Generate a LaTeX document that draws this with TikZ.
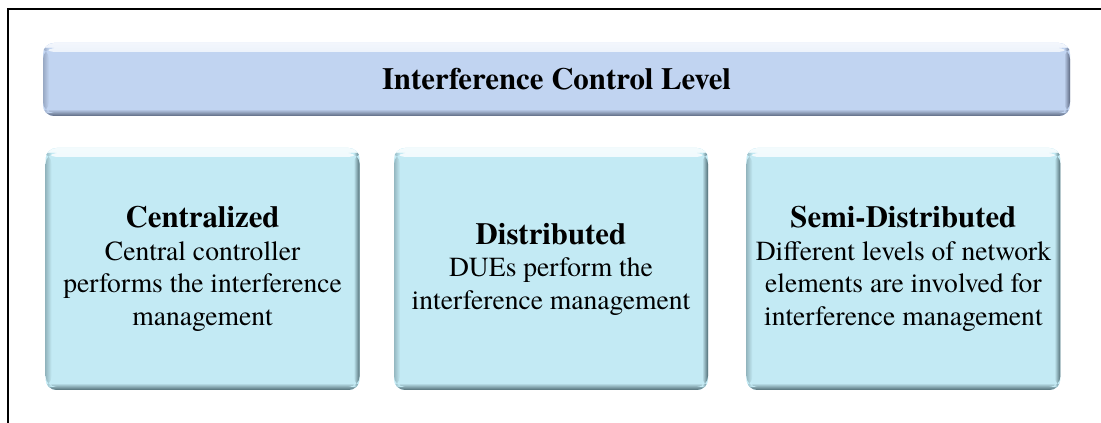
\documentclass[tikz,border=0pt]{standalone}
\usepackage{fontspec}
\setmainfont{TeX Gyre Termes}
\usetikzlibrary{positioning}
\definecolor{barblue}{RGB}{193,212,241}
\definecolor{barshade}{RGB}{92,104,128}
\definecolor{boxcyan}{RGB}{195,234,244}
\definecolor{boxshade}{RGB}{80,108,116}
\tikzset{%
	bevel/.style 2 args = {fill=#1, rounded corners=11pt, path picture={
		\fill[top color=white!80!#1, bottom color=#1] (path picture bounding box.north west) rectangle ([yshift=-9pt]path picture bounding box.north east);
		\fill[top color=#1, bottom color=#2] ([yshift=7pt]path picture bounding box.south west) rectangle (path picture bounding box.south east);
		\fill[left color=#1, right color=#2] ([xshift=-6pt,yshift=3pt]path picture bounding box.south east) rectangle ([yshift=-5pt]path picture bounding box.north east);
		\fill[left color=#2!40!#1, right color=#1] ([yshift=3pt]path picture bounding box.south west) rectangle ([xshift=6pt,yshift=-5pt]path picture bounding box.north west);
	}},
	level/.style    = {bevel={barblue}{barshade}, minimum width=1027pt, minimum height=73pt, font=\bfseries\fontsize{30.8}{33}\selectfont}, % top bar
	category/.style = {bevel={boxcyan}{boxshade}, minimum width=314pt, minimum height=242pt, align=center, font=\fontsize{27.6}{32.5}\selectfont}, % boxes
}
\newcommand{\cathead}[1]{{\bfseries\fontsize{30.8}{32.5}\selectfont #1}}

\begin{document}
\begin{tikzpicture}[x=1pt,y=1pt]
	\useasboundingbox (0,0) rectangle (1101,423);
	\coordinate (fa) at (1101,414);
	\coordinate (fb) at (8,414);
	\coordinate (fc) at (8,0);
	\draw[line width=1.2pt] (fa) -- (fb) -- (fc);
	
	\node [level] (icl) at (556.5,343.5) {Interference Control Level};
	\node [category] (dist) at (551,154) {\cathead{Distributed}\\DUEs perform the\\interference management};
	\node [category,left=34pt of dist] (cent) {\cathead{Centralized}\\Central controller\\performs the interference\\management};
	\node [category,right=38pt of dist] (semi) {\cathead{Semi-Distributed}\\Different levels of network\\elements are involved for\\interference management};
\end{tikzpicture}
\end{document}
